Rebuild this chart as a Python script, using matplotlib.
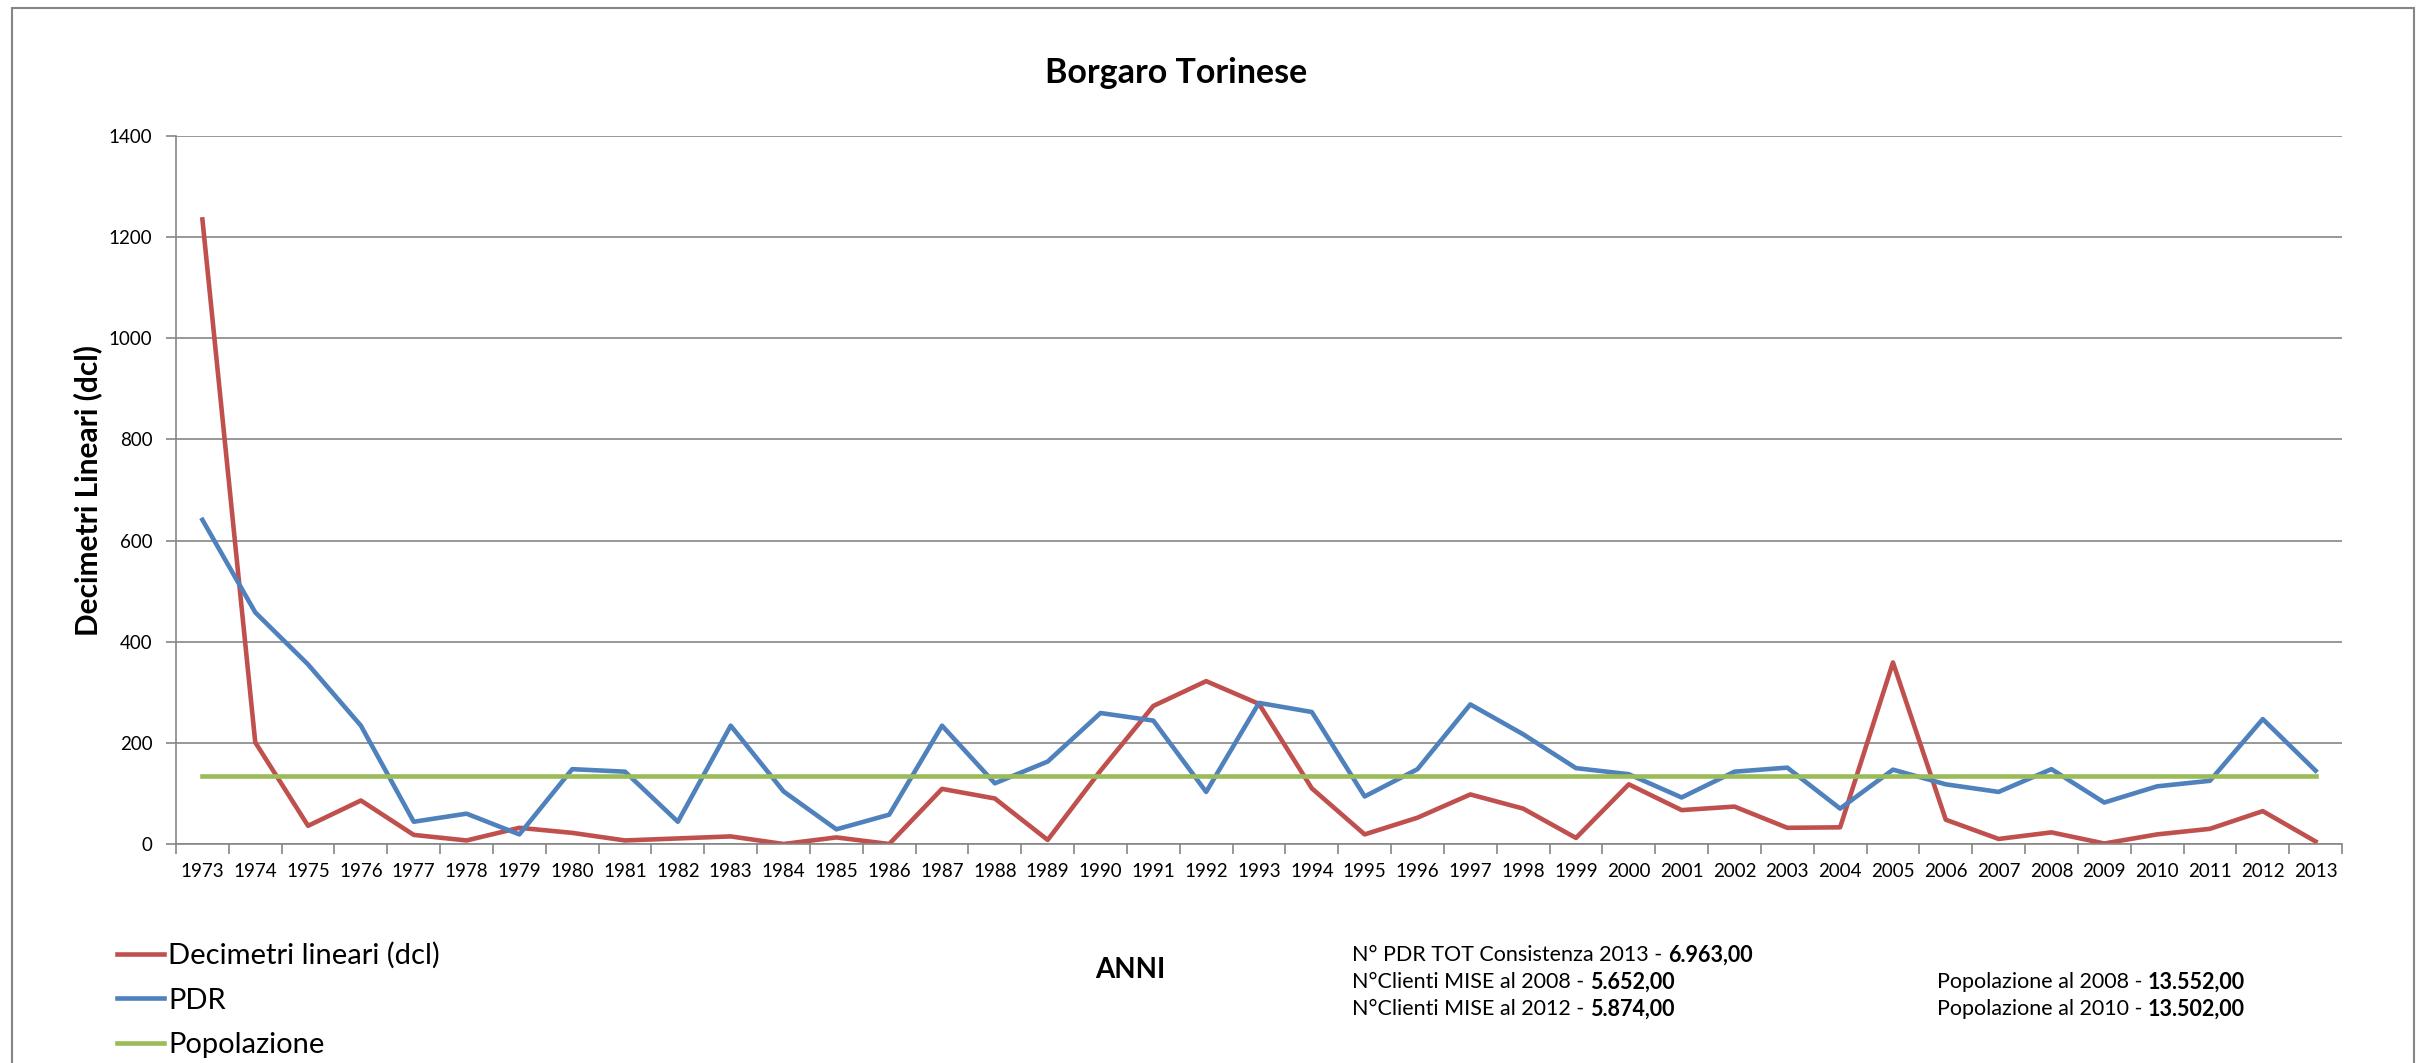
import numpy as np
import matplotlib
matplotlib.use('Agg')
import matplotlib.pyplot as plt
from matplotlib.patches import Rectangle

plt.rcParams['font.family'] = ['Lato', 'DejaVu Sans']

anni = list(range(1973, 2014))
dcl = [1235, 201, 36, 86, 18, 7, 32, 22, 7, 11, 15, 0, 13, 0, 109, 90, 8, 145, 273, 322,
       277, 110, 19, 52, 98, 70, 12, 118, 67, 74, 32, 33, 359, 48, 10, 23, 1, 19, 30, 65, 5]
pdr = [641, 458, 355, 234, 44, 60, 19, 148, 143, 44, 234, 104, 29, 58, 234, 120, 163, 259, 244, 103,
       279, 261, 94, 148, 276, 217, 150, 138, 92, 143, 151, 70, 147, 118, 103, 148, 82, 114, 125, 247, 145]
popolazione = [135] * len(anni)

ROSSO = '#C0504D'
BLU = '#4F81BD'
VERDE = '#9BBB59'
GRIGIO = '#868686'

W, H = 2424, 1063
fig = plt.figure(figsize=(W / 100, H / 100), dpi=100)
ax = fig.add_axes([176 / W, 1 - 844 / H, (2342 - 176) / W, (844 - 136) / H])

x = np.arange(len(anni))
ax.plot(x, dcl, color=ROSSO, lw=3.3, label='Decimetri lineari (dcl)')
ax.plot(x, pdr, color=BLU, lw=3.3, label='PDR')
ax.plot(x, popolazione, color=VERDE, lw=3.3, label='Popolazione')

ax.set_xlim(-0.5, len(anni) - 0.5)
ax.set_ylim(0, 1400)
ax.set_yticks(range(0, 1401, 200))
ax.yaxis.grid(True, color=GRIGIO, lw=1.2)
ax.set_axisbelow(True)

# tacche ai confini delle categorie, etichette al centro
ax.set_xticks(np.arange(-0.5, len(anni), 1.0))
ax.set_xticklabels([])
ax.set_xticks(x, minor=True)
ax.set_xticklabels([str(a) for a in anni], minor=True, fontsize=13.5)
ax.tick_params(axis='x', which='major', length=7, width=1.2, color=GRIGIO, direction='out')
ax.tick_params(axis='x', which='minor', length=0, pad=14)
ax.tick_params(axis='y', length=7, width=1.2, color=GRIGIO, labelsize=13.5, pad=10)

for s in ['top', 'right']:
    ax.spines[s].set_visible(False)
for s in ['left', 'bottom']:
    ax.spines[s].set_color(GRIGIO)
    ax.spines[s].set_linewidth(1.2)

fig.text(1176 / W, 1 - 73 / H, 'Borgaro Torinese', ha='center', va='center', fontsize=24.5, fontweight='bold')
fig.text(88 / W, 1 - 490 / H, 'Decimetri Lineari (dcl)', ha='center', va='center', rotation=90,
         fontsize=21.5, fontweight='bold')
fig.text(1130 / W, 1 - 970 / H, 'ANNI', ha='center', va='center', fontsize=20, fontweight='bold')

fig.legend(loc='upper left', bbox_to_anchor=(117 / W, 1 - 942 / H), frameon=False, fontsize=21,
           handlelength=1.6, handletextpad=0.15, labelspacing=0.64, borderaxespad=0, borderpad=0)

# note a destra
righe1 = [('N° PDR TOT Consistenza 2013 - ', '6.963,00'),
          ('N°Clienti MISE al 2008 - ', '5.652,00'),
          ('N°Clienti MISE al 2012 - ', '5.874,00')]
righe2 = [('Popolazione al 2008 - ', '13.552,00'),
          ('Popolazione al 2010 - ', '13.502,00')]
ys = [1 - 955 / H, 1 - 982 / H, 1 - 1009 / H]


def riga(xf, yf, testo, valore):
    t = fig.text(xf, yf, testo, ha='left', va='center', fontsize=15.5)
    fig.canvas.draw()
    bb = t.get_window_extent()
    fig.text(bb.x1 / fig.bbox.width, yf, valore, ha='left', va='center', fontsize=15.5, fontweight='bold')


for (t, v), yf in zip(righe1, ys):
    riga(1352 / W, yf, t, v)
for (t, v), yf in zip(righe2, ys[1:]):
    riga(1937 / W, yf, t, v)

# cornice del grafico
fig.patches.append(Rectangle((12 / W, -0.05), 2402 / W, 1.05 - 8 / H, transform=fig.transFigure,
                             fill=False, edgecolor=GRIGIO, lw=1.5))

fig.savefig('out.png', dpi=100)
